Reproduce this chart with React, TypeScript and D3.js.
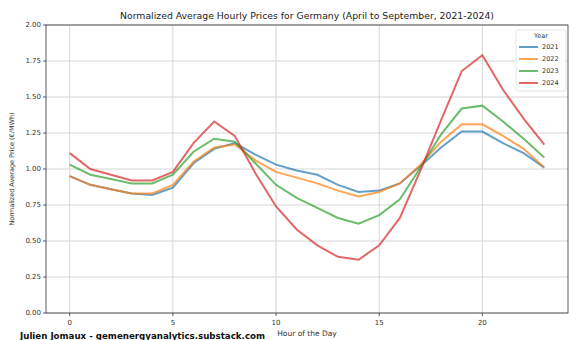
import React from 'react';
import * as d3 from 'd3';

const hours = [0, 1, 2, 3, 4, 5, 6, 7, 8, 9, 10, 11, 12, 13, 14, 15, 16, 17, 18, 19, 20, 21, 22, 23];
const years = ['2021', '2022', '2023', '2024'];
const prices2021 = [0.95, 0.89, 0.86, 0.83, 0.82, 0.87, 1.04, 1.14, 1.18, 1.10, 1.03, 0.99, 0.96, 0.89, 0.84, 0.85, 0.90, 1.02, 1.15, 1.26, 1.26, 1.18, 1.11, 1.01];
const prices2022 = [0.95, 0.89, 0.86, 0.83, 0.83, 0.89, 1.05, 1.15, 1.17, 1.06, 0.98, 0.94, 0.90, 0.85, 0.81, 0.84, 0.90, 1.03, 1.19, 1.31, 1.31, 1.23, 1.14, 1.01];
const prices2023 = [1.03, 0.96, 0.93, 0.90, 0.90, 0.96, 1.12, 1.21, 1.19, 1.04, 0.89, 0.80, 0.73, 0.66, 0.62, 0.68, 0.79, 1.01, 1.24, 1.42, 1.44, 1.33, 1.21, 1.08];
const prices2024 = [1.11, 1.00, 0.96, 0.92, 0.92, 0.98, 1.18, 1.33, 1.23, 0.97, 0.74, 0.58, 0.47, 0.39, 0.37, 0.47, 0.66, 0.99, 1.34, 1.68, 1.79, 1.55, 1.35, 1.17];
const xTicks = [0, 5, 10, 15, 20];
const yTicks = [0, 0.25, 0.5, 0.75, 1, 1.25, 1.5, 1.75, 2];

const series = [prices2021, prices2022, prices2023, prices2024];
const colors = ['#1f77b4', '#ff7f0e', '#2ca02c', '#d62728'];

const width = 569;
const height = 340;
const margin = { left: 46, right: 1, top: 25, bottom: 27 };
const font = 'DejaVu Sans, sans-serif';

export default function App() {
  const x = d3.scaleLinear().domain([-1.15, 24.15]).range([margin.left, width - margin.right]);
  const y = d3.scaleLinear().domain([0, 2]).range([height - margin.bottom, margin.top]);
  const line = d3.line<number>()
    .x((d, i) => x(hours[i]))
    .y((d) => y(d));

  return (
    <svg width={width} height={height} style={{ position: 'absolute', left: 0, top: 0, background: '#fff' }}>
      {/* grid */}
      {xTicks.map((t) => (
        <line key={'gx' + t} x1={x(t)} x2={x(t)} y1={y(0)} y2={y(2)} stroke="#d6d6d6" strokeWidth={1} />
      ))}
      {yTicks.map((t) => (
        <line key={'gy' + t} x1={x(-1.15)} x2={x(24.15)} y1={y(t)} y2={y(t)} stroke="#d6d6d6" strokeWidth={1} />
      ))}

      {/* series */}
      {series.map((s, i) => (
        <path key={years[i]} d={line(s) || ''} fill="none" stroke={colors[i]} strokeOpacity={0.7} strokeWidth={2} />
      ))}

      {/* frame */}
      <rect x={x(-1.15)} y={y(2)} width={x(24.15) - x(-1.15)} height={y(0) - y(2)} fill="none" stroke="#333" strokeWidth={0.8} />

      {/* y ticks */}
      {yTicks.map((t) => (
        <g key={'ty' + t}>
          <line x1={margin.left - 3} x2={margin.left} y1={y(t)} y2={y(t)} stroke="#333" strokeWidth={0.8} />
          <text x={margin.left - 5} y={y(t)} dy="0.35em" textAnchor="end" fontFamily={font} fontSize={7} fill="#333">
            {t.toFixed(2)}
          </text>
        </g>
      ))}
      {/* x ticks */}
      {xTicks.map((t) => (
        <g key={'tx' + t}>
          <line x1={x(t)} x2={x(t)} y1={y(0)} y2={y(0) + 3} stroke="#333" strokeWidth={0.8} />
          <text x={x(t)} y={y(0) + 12} textAnchor="middle" fontFamily={font} fontSize={7} fill="#333">
            {t}
          </text>
        </g>
      ))}

      {/* labels */}
      <text x={(margin.left + width - margin.right) / 2} y={19} textAnchor="middle" fontFamily={font} fontSize={9.3} fill="#222">
        Normalized Average Hourly Prices for Germany (April to September, 2021-2024)
      </text>
      <text x={(margin.left + width - margin.right) / 2} y={336} textAnchor="middle" fontFamily={font} fontSize={7.5} fill="#333">
        Hour of the Day
      </text>
      <text transform={`translate(14,${(y(0) + y(2)) / 2}) rotate(-90)`} textAnchor="middle" fontFamily={font} fontSize={6.5} fill="#333">
        Normalized Average Price (€/MWh)
      </text>
      <text x={20} y={339} fontFamily={font} fontSize={8} fontWeight="bold" fill="#111" textLength={245} lengthAdjust="spacingAndGlyphs">
        Julien Jomaux - gemenergyanalytics.substack.com
      </text>

      {/* legend */}
      <g>
        <rect x={516} y={30} width={50} height={61} rx={2} fill="#fff" fillOpacity={0.85} stroke="#ddd" strokeWidth={0.8} />
        <text x={541} y={37.5} textAnchor="middle" fontFamily={font} fontSize={6.5} fill="#333">Year</text>
        {years.map((yr, i) => (
          <g key={'lg' + yr}>
            <line x1={519} x2={538} y1={47 + i * 12} y2={47 + i * 12} stroke={colors[i]} strokeOpacity={0.7} strokeWidth={2} />
            <text x={542} y={47 + i * 12} dy="0.35em" fontFamily={font} fontSize={6.5} fill="#333">{yr}</text>
          </g>
        ))}
      </g>
    </svg>
  );
}
